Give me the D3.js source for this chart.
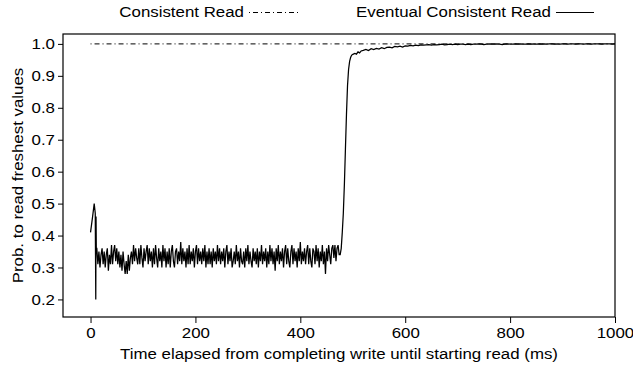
<!DOCTYPE html>
<html>
<head>
<meta charset="utf-8">
<script src="https://cdn.jsdelivr.net/npm/d3@7"></script>
<style>
  body { margin: 0; background: #fff; }
  text { font-family: "Liberation Sans", Arial, sans-serif; fill: #000; }
</style>
</head>
<body>
<div id="holder"></div>
<script>
// initial spike right after the write
const startT = [0, 4, 7, 9, 10, 10.5, 11];
const startV = [0.41, 0.46, 0.50, 0.47, 0.20, 0.46, 0.36];

// noisy plateau, one sample every 2 ms from 12 to 474 ms
const noiseT = d3.range(12, 476, 2);
const noiseV = [
  0.36,0.31,0.35,0.30,0.34,0.36,0.31,0.35,0.30,0.34,0.36,0.29,0.34,0.31,0.37,0.31,0.35,0.37,0.32,0.36,
  0.31,0.35,0.30,0.34,0.29,0.35,0.31,0.28,0.32,0.28,0.34,0.29,0.33,0.35,0.31,0.37,0.32,0.36,0.33,0.31,
  0.36,0.31,0.37,0.33,0.30,0.36,0.32,0.35,0.37,0.31,0.36,0.32,0.35,0.30,0.36,0.31,0.37,0.33,0.30,0.36,
  0.32,0.35,0.30,0.37,0.32,0.36,0.30,0.35,0.31,0.36,0.30,0.35,0.37,0.32,0.30,0.35,0.36,0.31,0.35,0.32,
  0.38,0.31,0.36,0.32,0.35,0.30,0.36,0.31,0.37,0.31,0.35,0.32,0.36,0.30,0.35,0.37,0.31,0.36,0.32,0.35,
  0.31,0.36,0.32,0.37,0.30,0.35,0.31,0.36,0.31,0.35,0.30,0.36,0.32,0.35,0.31,0.37,0.32,0.36,0.31,0.35,
  0.32,0.36,0.30,0.35,0.37,0.31,0.35,0.32,0.36,0.30,0.32,0.35,0.31,0.37,0.32,0.35,0.30,0.36,0.32,0.31,
  0.35,0.30,0.36,0.32,0.37,0.31,0.35,0.32,0.30,0.36,0.32,0.35,0.31,0.36,0.30,0.35,0.32,0.37,0.31,0.35,
  0.32,0.36,0.30,0.35,0.31,0.37,0.32,0.36,0.31,0.35,0.29,0.36,0.32,0.37,0.31,0.35,0.32,0.36,0.30,0.35,
  0.37,0.31,0.36,0.32,0.30,0.35,0.37,0.31,0.36,0.32,0.35,0.30,0.36,0.32,0.38,0.31,0.35,0.32,0.36,0.31,
  0.35,0.37,0.31,0.36,0.32,0.30,0.36,0.35,0.31,0.37,0.32,0.36,0.30,0.35,0.32,0.37,0.31,0.35,0.28,0.36,
  0.32,0.37,0.34,0.31,0.36,0.37,0.33,0.37,0.32,0.36,0.37,0.34
];

// the jump to fresh values
const riseT = [476, 478, 480, 482, 484, 486, 488, 490, 492, 494, 496, 498, 501, 504, 507, 510, 513, 516];
const riseV = [0.34, 0.36, 0.41, 0.47, 0.56, 0.67, 0.78, 0.87, 0.92, 0.945, 0.958, 0.965, 0.968, 0.97, 0.968, 0.975, 0.972, 0.978];

// tail, one sample every 5 ms from 520 to 1000 ms
const tailT = d3.range(520, 1001, 5);
const tailV = [
  0.980,0.983,0.979,0.985,0.982,0.986,0.984,0.988,0.985,0.989,
  0.990,0.988,0.992,0.991,0.993,0.990,0.994,0.993,0.995,0.994,
  0.996,0.995,0.997,0.996,0.997,0.998,0.996,0.998,0.997,0.998,
  0.999,0.997,0.998,0.999,0.998,0.999,0.998,0.999,0.999,0.998,
  0.999,0.998,0.999,0.999,1.000,0.999,0.998,0.999,1.000,0.999,
  0.999,1.000,0.999,0.998,0.999,1.000,0.999,0.999,1.000,0.999,
  1.000,0.999,0.999,1.000,0.999,1.000,0.999,1.000,0.999,1.000,
  0.999,1.000,1.000,0.999,1.000,0.999,1.000,1.000,0.999,1.000,
  1.000,0.999,1.000,1.000,0.999,1.000,1.000,0.999,1.000,1.000,
  1.000,0.999,1.000,1.000,1.000,0.999,1.000
];

// strong consistency is always fresh
const consistentT = [0, 1000];
const consistentV = [1.0, 1.0];

const xTicks = [0, 200, 400, 600, 800, 1000];
const yTicks = [0.2, 0.3, 0.4, 0.5, 0.6, 0.7, 0.8, 0.9, 1.0];

const width = 633;
const height = 368;
const plotLeft = 63, plotRight = 615, plotTop = 34, plotBottom = 317;
const stretch = 1.125; // the original lettering runs a bit wide

const svg = d3.select("#holder")
    .append("svg")
    .attr("width", width)
    .attr("height", height);

const x = d3.scaleLinear().domain([-52.5, 1000]).range([plotLeft, plotRight]);
const y = d3.scaleLinear().domain([0.145, 1.031]).range([plotBottom, plotTop]);

const eventual = [];
startT.forEach((t, i) => eventual.push([t, startV[i]]));
noiseT.forEach((t, i) => eventual.push([t, noiseV[i]]));
riseT.forEach((t, i) => eventual.push([t, riseV[i]]));
tailT.forEach((t, i) => eventual.push([t, tailV[i]]));

const consistent = consistentT.map((t, i) => [t, consistentV[i]]);

const line = d3.line()
    .x(d => x(d[0]))
    .y(d => y(d[1]));

function addLabel(px, py, str, anchor, angle) {
    svg.append("g")
        .attr("transform", `translate(${px}, ${py}) rotate(${angle || 0}) scale(${stretch}, 1)`)
        .append("text")
        .attr("text-anchor", anchor)
        .style("font-size", "15px")
        .text(str);
}

// axes
svg.append("g")
    .attr("transform", `translate(0, ${plotBottom})`)
    .call(d3.axisBottom(x).tickValues(xTicks).tickSize(6).tickPadding(4).tickFormat(d3.format("d")))
    .call(g => g.select(".domain").remove())
    .selectAll("text")
    .attr("transform", `scale(${stretch}, 1)`)
    .style("font-size", "15px");

svg.append("g")
    .attr("transform", `translate(${plotLeft}, 0)`)
    .call(d3.axisLeft(y).tickValues(yTicks).tickSize(5).tickPadding(3).tickFormat(d3.format(".1f")))
    .call(g => g.select(".domain").remove())
    .selectAll("text")
    .attr("x", -8 / stretch)
    .attr("transform", `scale(${stretch}, 1)`)
    .style("font-size", "15px");

svg.selectAll(".tick line").attr("stroke", "#000");

svg.append("rect")
    .attr("x", plotLeft)
    .attr("y", plotTop)
    .attr("width", plotRight - plotLeft)
    .attr("height", plotBottom - plotTop)
    .attr("fill", "none")
    .attr("stroke", "#000")
    .attr("stroke-width", 1.2);

// series
svg.append("path")
    .datum(consistent)
    .attr("d", line)
    .attr("fill", "none")
    .attr("stroke", "#000")
    .attr("stroke-width", 1)
    .attr("stroke-dasharray", "1,3,5,3");

svg.append("path")
    .datum(eventual)
    .attr("d", line)
    .attr("fill", "none")
    .attr("stroke", "#000")
    .attr("stroke-width", 1.25)
    .attr("stroke-linejoin", "miter");

// axis titles
addLabel((plotLeft + plotRight) / 2, 359, "Time elapsed from completing write until starting read (ms)", "middle");
addLabel(23, (plotTop + plotBottom) / 2, "Prob. to read freshest values", "middle", -90);

// legend
addLabel(244, 17, "Consistent Read", "end");
svg.append("line")
    .attr("x1", 249).attr("x2", 300)
    .attr("y1", 12.5).attr("y2", 12.5)
    .attr("stroke", "#000")
    .attr("stroke-width", 1)
    .attr("stroke-dasharray", "1,3,5,3");
addLabel(551, 17, "Eventual Consistent Read", "end");
svg.append("line")
    .attr("x1", 556).attr("x2", 594)
    .attr("y1", 12.5).attr("y2", 12.5)
    .attr("stroke", "#000")
    .attr("stroke-width", 1);
</script>
</body>
</html>
